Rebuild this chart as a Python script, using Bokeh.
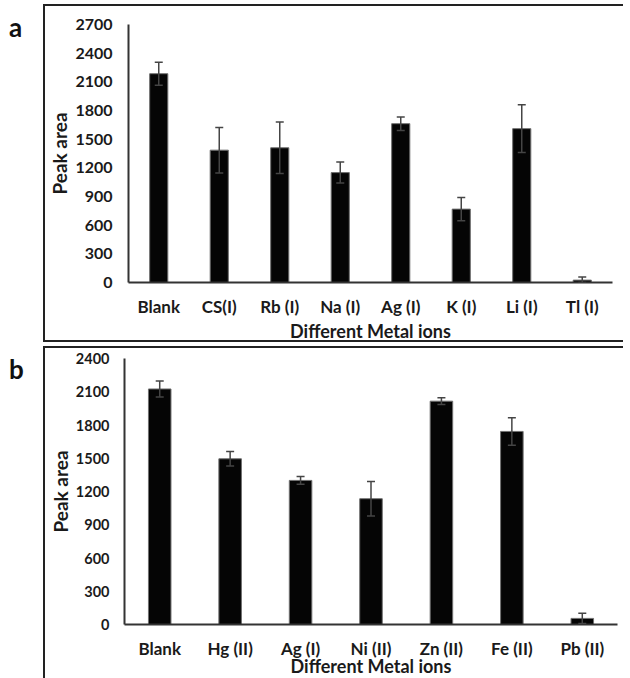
from bokeh.plotting import figure
from bokeh.models import (ColumnDataSource, Range1d, FixedTicker, Whisker, TeeHead, Div)
from bokeh.layouts import column, row
from bokeh.embed import file_html
from bokeh.resources import INLINE

# ---- data ----
cats_a = ["Blank", "CS(I)", "Rb (I)", "Na (I)", "Ag (I)", "K (I)", "Li (I)", "Tl (I)"]
vals_a = [2185, 1385, 1410, 1150, 1662, 768, 1610, 25]
errs_a = [120, 238, 270, 110, 70, 122, 250, 32]
ticks_a = [0, 300, 600, 900, 1200, 1500, 1800, 2100, 2400, 2700]

cats_b = ["Blank", "Hg (II)", "Ag (I)", "Ni (II)", "Zn (II)", "Fe (II)", "Pb (II)"]
vals_b = [2125, 1495, 1300, 1135, 2015, 1742, 55]
errs_b = [72, 65, 35, 155, 30, 124, 47]
ticks_b = [0, 300, 600, 900, 1200, 1500, 1800, 2100, 2400]

FONT = "Lato"
TXT = "#1a1a1a"


def make_panel(cats, vals, errs, ticks, ymax, bar_w, width, height, borders, styles,
               ytick_size, ylab_standoff, xlab_standoff):
    src = ColumnDataSource(dict(
        x=cats, top=vals,
        upper=[v + e for v, e in zip(vals, errs)],
        lower=[max(v - e, 0) for v, e in zip(vals, errs)],
    ))
    p = figure(x_range=cats, y_range=Range1d(0, ymax), width=width, height=height,
               output_backend="svg", toolbar_location=None,
               min_border_left=borders[0], min_border_right=borders[1],
               min_border_top=borders[2], min_border_bottom=borders[3],
               styles=styles)
    p.vbar(x="x", top="top", width=bar_w, source=src, fill_color="#050505",
           line_color="#707070", line_width=1)
    w = Whisker(base="x", upper="upper", lower="lower", source=src,
                line_color="#454545", line_width=1.5, level="overlay",
                upper_head=TeeHead(size=8, line_color="#454545", line_width=1.5),
                lower_head=TeeHead(size=8, line_color="#454545", line_width=1.5))
    p.add_layout(w)
    p.xgrid.grid_line_color = None
    p.ygrid.grid_line_color = None
    p.outline_line_color = None
    p.yaxis.ticker = FixedTicker(ticks=ticks)
    for ax in (p.xaxis[0], p.yaxis[0]):
        ax.axis_line_color = "#333333"
        ax.axis_line_width = 2
        ax.major_tick_line_color = None
        ax.minor_tick_line_color = None
        ax.major_tick_out = 0
        ax.major_tick_in = 0
        ax.minor_tick_out = 0
        ax.major_label_text_font = FONT
        ax.major_label_text_font_style = "bold"
        ax.major_label_text_color = TXT
        ax.axis_label_text_font = FONT
        ax.axis_label_text_font_style = "bold"
        ax.axis_label_text_color = TXT
    p.yaxis.major_label_text_font_size = ytick_size
    p.xaxis.major_label_text_font_size = "17px"
    p.yaxis.axis_label_text_font_size = "19px"
    p.xaxis.axis_label_text_font_size = "18px"
    p.yaxis.major_label_standoff = ylab_standoff
    p.yaxis.axis_label = "Peak area"
    p.yaxis.axis_label_standoff = 1
    p.xaxis.major_label_standoff = 13
    p.xaxis.axis_label = "Different Metal ions"
    p.xaxis.axis_label_standoff = xlab_standoff
    p.x_range.range_padding = 0
    return p


border = "2px solid #222222"
p1 = make_panel(cats_a, vals_a, errs_a, ticks_a, 2700, 0.30, 580, 338,
                (79, 13, 18, 59),
                {"border-top": border, "border-left": border, "border-bottom": border},
                "16px", 16, 0)
p2 = make_panel(cats_b, vals_b, errs_b, ticks_b, 2400, 0.32, 580, 332,
                (71, 8, 10, 56),
                {"border-top": border, "border-left": border},
                "14.5px", 15, -7)

lab_style = {"font-family": FONT, "font-weight": "bold", "font-size": "26px", "color": "#111"}
da = Div(text="a", width=34, height=40, margin=(5, 0, 0, 9), styles=lab_style)
db = Div(text="b", width=34, height=40, margin=(5, 0, 0, 9), styles=lab_style)

layout = column(row(da, p1, margin=(4, 0, 0, 0)), row(db, p2, margin=(4, 0, 0, 0)),
                spacing=0, margin=(0, 0, -18, 0))

open("out.html", "w").write(file_html(layout, INLINE))
